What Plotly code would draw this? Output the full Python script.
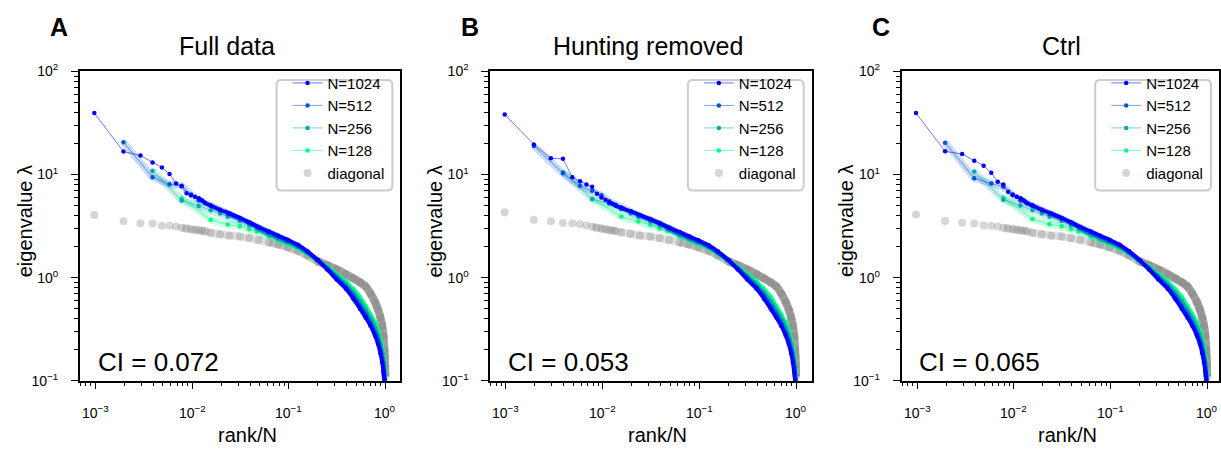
import math
import plotly.graph_objects as go

W, H = 1221, 455

# ---------------------------------------------------------------- data
# ranks at which each spectrum is sampled (x = rank / N)
RANK_1024 = [1, 2, 3, 4, 5, 6, 7, 8, 9, 10, 11, 12, 13, 14, 16, 20, 25, 32, 40, 50,
             64, 80, 100, 128, 160, 205, 256, 320, 400, 480, 560, 640, 720, 800, 860,
             910, 950, 980, 1000, 1010, 1018, 1024]
RANK_512 = [1, 2, 3, 4, 5, 6, 7, 8, 10, 12, 16, 20, 25, 32, 40, 50, 64, 80, 100, 128,
            160, 200, 240, 280, 320, 360, 400, 430, 455, 475, 490, 500, 506, 510, 512]
RANK_256 = [1, 2, 3, 4, 5, 6, 8, 10, 12, 16, 20, 25, 32, 40, 50, 64, 80, 100, 120, 140,
            160, 180, 200, 215, 228, 238, 245, 250, 253, 255, 256]
RANK_128 = [1, 2, 3, 4, 5, 6, 8, 10, 12, 16, 20, 25, 32, 40, 50, 60, 70, 80, 90, 100,
            108, 114, 119, 123, 126, 127, 128]

# Panel A: full data
LAM_A_1024 = [39.5, 16.7, 15.3, 13.1, 11.7, 10.1, 8.2, 7.7, 6.6, 6.3, 6.1, 5.9, 5.6, 5.3,
              5.0, 4.55, 4.2, 3.8, 3.44, 3.1, 2.8, 2.55, 2.33, 2.08, 1.8, 1.48, 1.2, 0.96,
              0.78, 0.62, 0.5, 0.41, 0.34, 0.275, 0.228, 0.185, 0.15, 0.122, 0.102, 0.09,
              0.075, 0.05]
LAM_A_512 = [20.6, 9.4, 8.05, 7.8, 6.4, 5.6, 5.3, 5.0, 4.5, 4.15, 3.75, 3.4, 3.05, 2.75,
             2.5, 2.27, 2.04, 1.77, 1.49, 1.22, 1.0, 0.81, 0.66, 0.53, 0.44, 0.36, 0.29,
             0.245, 0.2, 0.165, 0.135, 0.112, 0.097, 0.085, 0.06]
LAM_A_256 = [10.9, 5.6, 4.96, 4.5, 4.2, 3.9, 3.55, 3.25, 3.0, 2.62, 2.4, 2.2, 1.97, 1.73,
             1.48, 1.25, 1.04, 0.86, 0.71, 0.59, 0.48, 0.4, 0.33, 0.275, 0.225, 0.185,
             0.15, 0.125, 0.105, 0.09, 0.07]
LAM_A_128 = [5.9, 3.65, 3.27, 3.16, 2.95, 2.8, 2.5, 2.3, 2.15, 1.92, 1.7, 1.47, 1.28, 1.08,
             0.92, 0.77, 0.65, 0.53, 0.44, 0.37, 0.3, 0.25, 0.21, 0.17, 0.125, 0.1, 0.075]
LAM_A_DIAG = [4.06, 3.52, 3.37, 3.35, 3.18, 3.18, 3.14, 3.05, 3.0, 2.95, 2.91, 2.88, 2.85,
              2.82, 2.72, 2.64, 2.56, 2.5, 2.42, 2.32, 2.2, 2.1, 1.97, 1.82, 1.64, 1.44,
              1.32, 1.2, 1.08, 0.98, 0.9, 0.82, 0.7, 0.58, 0.49, 0.41, 0.34, 0.27, 0.2,
              0.17, 0.14, 0.11]

# Panel B: hunting removed
LAM_B_1024 = [38.3, 19.6, 14.4, 14.2, 9.4, 8.6, 8.0, 7.6, 6.5, 6.0, 5.7, 5.4, 5.2, 5.0,
              4.75, 4.4, 4.05, 3.7, 3.38, 3.06, 2.77, 2.52, 2.3, 2.06, 1.79, 1.48, 1.2,
              0.96, 0.78, 0.62, 0.5, 0.41, 0.34, 0.275, 0.228, 0.185, 0.15, 0.122, 0.102,
              0.09, 0.075, 0.05]
LAM_B_512 = [18.9, 10.3, 7.8, 6.95, 6.3, 5.5, 5.1, 4.8, 4.4, 4.05, 3.65, 3.33, 3.0, 2.72,
             2.47, 2.25, 2.02, 1.76, 1.49, 1.22, 1.0, 0.81, 0.66, 0.53, 0.44, 0.36, 0.29,
             0.245, 0.2, 0.165, 0.135, 0.112, 0.097, 0.085, 0.06]
LAM_B_256 = [10.5, 5.8, 5.2, 4.6, 4.2, 3.9, 3.5, 3.2, 2.97, 2.6, 2.39, 2.19, 1.96, 1.72,
             1.48, 1.25, 1.04, 0.86, 0.71, 0.59, 0.48, 0.4, 0.33, 0.275, 0.225, 0.185,
             0.15, 0.125, 0.105, 0.09, 0.07]
LAM_B_128 = [5.8, 3.92, 3.5, 3.25, 3.0, 2.83, 2.5, 2.3, 2.15, 1.92, 1.7, 1.47, 1.28, 1.08,
             0.92, 0.77, 0.65, 0.53, 0.44, 0.37, 0.3, 0.25, 0.21, 0.17, 0.125, 0.1, 0.075]
LAM_B_DIAG = [4.3, 3.65, 3.52, 3.39, 3.37, 3.3, 3.2, 3.12, 3.05, 2.99, 2.94, 2.9, 2.86,
              2.83, 2.75, 2.66, 2.57, 2.5, 2.42, 2.32, 2.2, 2.1, 1.97, 1.82, 1.64, 1.44,
              1.32, 1.2, 1.08, 0.98, 0.9, 0.82, 0.7, 0.58, 0.49, 0.41, 0.34, 0.27, 0.2,
              0.17, 0.14, 0.11]

# Panel C: control
LAM_C_1024 = [39.5, 16.8, 15.8, 13.6, 12.2, 10.4, 8.5, 8.0, 6.8, 6.4, 6.1, 5.9, 5.6, 5.3,
              5.0, 4.55, 4.2, 3.8, 3.44, 3.1, 2.8, 2.55, 2.33, 2.08, 1.8, 1.48, 1.2, 0.96,
              0.78, 0.62, 0.5, 0.41, 0.34, 0.275, 0.228, 0.185, 0.15, 0.122, 0.102, 0.09,
              0.075, 0.05]
LAM_C_512 = [20.4, 9.2, 8.2, 7.6, 6.3, 5.6, 5.3, 5.0, 4.5, 4.15, 3.75, 3.4, 3.05, 2.75,
             2.5, 2.27, 2.04, 1.77, 1.49, 1.22, 1.0, 0.81, 0.66, 0.53, 0.44, 0.36, 0.29,
             0.245, 0.2, 0.165, 0.135, 0.112, 0.097, 0.085, 0.06]
LAM_C_256 = [10.7, 5.7, 5.0, 4.5, 4.2, 3.9, 3.55, 3.25, 3.0, 2.62, 2.4, 2.2, 1.97, 1.73,
             1.48, 1.25, 1.04, 0.86, 0.71, 0.59, 0.48, 0.4, 0.33, 0.275, 0.225, 0.185,
             0.15, 0.125, 0.105, 0.09, 0.07]
LAM_C_128 = [6.0, 3.7, 3.3, 3.16, 2.95, 2.8, 2.5, 2.3, 2.15, 1.92, 1.7, 1.47, 1.28, 1.08,
             0.92, 0.77, 0.65, 0.53, 0.44, 0.37, 0.3, 0.25, 0.21, 0.17, 0.125, 0.1, 0.075]
LAM_C_DIAG = [4.1, 3.55, 3.4, 3.35, 3.2, 3.18, 3.14, 3.05, 3.0, 2.95, 2.91, 2.88, 2.85,
              2.82, 2.72, 2.64, 2.56, 2.5, 2.42, 2.32, 2.2, 2.1, 1.97, 1.82, 1.64, 1.44,
              1.32, 1.2, 1.08, 0.98, 0.9, 0.82, 0.7, 0.58, 0.49, 0.41, 0.34, 0.27, 0.2,
              0.17, 0.14, 0.11]

SIZES = [1024, 512, 256, 128]
RANKS = {1024: RANK_1024, 512: RANK_512, 256: RANK_256, 128: RANK_128}
PANEL_LETTERS = ["A", "B", "C"]
PANEL_TITLES = ["Full data", "Hunting removed", "Ctrl"]
CI_VALUES = ["0.072", "0.053", "0.065"]
SPECTRA = [
    {1024: LAM_A_1024, 512: LAM_A_512, 256: LAM_A_256, 128: LAM_A_128},
    {1024: LAM_B_1024, 512: LAM_B_512, 256: LAM_B_256, 128: LAM_B_128},
    {1024: LAM_C_1024, 512: LAM_C_512, 256: LAM_C_256, 128: LAM_C_128},
]
DIAGONALS = [LAM_A_DIAG, LAM_B_DIAG, LAM_C_DIAG]
X_TICKS = [1e-3, 1e-2, 1e-1, 1]
X_TICK_TEXT = ["10<sup>\u22123</sup>", "10<sup>\u22122</sup>", "10<sup>\u22121</sup>",
               "10<sup>0</sup>"]
Y_TICKS = [1e-1, 1, 10, 100]
Y_TICK_TEXT = ["10<sup>\u22121</sup>", "10<sup>0</sup>", "10<sup>1</sup>", "10<sup>2</sup>"]

# ---------------------------------------------------------------- style
FONT = "Liberation Sans, Arial, Helvetica, sans-serif"
RGB = {1024: (0, 0, 255), 512: (0, 85, 212), 256: (0, 170, 170), 128: (0, 255, 128)}
GRAY = (120, 120, 120)


def rgba(c, a):
    return f"rgba({c[0]},{c[1]},{c[2]},{a})"


def px(x):
    return x / W


def py(y):
    return 1 - y / H


# pixel geometry of the three axes boxes
BOX_LEFT = [80, 491, 903]
BOX_RIGHT = [401, 813, 1221]
BOX_TOP, BOX_BOTTOM = 64, 386
X_RANGE_RIGHT = [0.155, 0.161, 0.122]

MINOR_VALS = [m * 10.0 ** e for e in range(-4, 3) for m in range(2, 10)]

fig = go.Figure()
layout_axes = {}
annotations = []
shapes = []

for i in range(3):
    sfx = "" if i == 0 else str(i + 1)
    xa, ya = "x" + sfx, "y" + sfx
    leg = "legend" + sfx
    diag = DIAGONALS[i]
    xd = [r / 1024 for r in RANK_1024]

    # diagonal spectrum: translucent gray discs, darker where they pile up
    fig.add_trace(go.Scatter(
        x=xd, y=diag, mode="markers", xaxis=xa, yaxis=ya, legend=leg,
        name="diagonal", legendgroup=f"{i}diag", legendrank=5,
        marker=dict(size=8, color=rgba((128, 128, 128), 0.32), line=dict(width=0)),
        hoverinfo="skip"))
    for start, alpha in [(8, 0.22), (64, 0.3), (205, 0.45)]:
        k = RANK_1024.index(start)
        fig.add_trace(go.Scatter(
            x=xd[k:], y=diag[k:], mode="lines", xaxis=xa, yaxis=ya,
            line=dict(color=rgba(GRAY, alpha), width=8, shape="spline", smoothing=0.6),
            showlegend=False, hoverinfo="skip"))

    for n in [128, 256, 512, 1024]:
        ranks = RANKS[n]
        lam = SPECTRA[i][n]
        x = [r / n for r in ranks]
        c = RGB[n]
        if n != 1024:
            kb = sum(1 for v in x if v <= 0.1)
            fig.add_trace(go.Scatter(
                x=x[:kb], y=lam[:kb], mode="lines", xaxis=xa, yaxis=ya,
                line=dict(color=rgba(c, 0.22), width=7),
                showlegend=False, hoverinfo="skip"))
        fig.add_trace(go.Scatter(
            x=x, y=lam, mode="lines+markers", xaxis=xa, yaxis=ya, legend=leg,
            name=f"N={n}", legendgroup=f"{i}{n}", legendrank=SIZES.index(n) + 1,
            line=dict(color=rgba(c, 0.55), width=1),
            marker=dict(size=4.5, color=rgba(c, 1)),
            hoverinfo="skip"))
        kd = ranks.index(12)
        fig.add_trace(go.Scatter(
            x=x[kd:], y=lam[kd:], mode="lines", xaxis=xa, yaxis=ya,
            line=dict(color=rgba(c, 0.95), width=4, shape="spline", smoothing=0.5),
            showlegend=False, hoverinfo="skip"))

    left, right = BOX_LEFT[i], BOX_RIGHT[i]
    layout_axes["xaxis" + sfx] = dict(
        type="log", range=[-3.16, X_RANGE_RIGHT[i]], domain=[px(left), px(right)],
        anchor=ya, tickmode="array", tickvals=X_TICKS, showticklabels=False,
        ticks="outside", ticklen=7, tickwidth=1.2, tickcolor="black",
        minor=dict(tickmode="array", tickvals=MINOR_VALS, ticks="outside",
                   ticklen=4, tickwidth=1, tickcolor="black", showgrid=False),
        showline=True, linecolor="black", linewidth=1.5, mirror=True,
        showgrid=False, zeroline=False)
    layout_axes["yaxis" + sfx] = dict(
        type="log", range=[-1, 2], domain=[py(BOX_BOTTOM), py(BOX_TOP)],
        anchor=xa, tickmode="array", tickvals=Y_TICKS, ticktext=Y_TICK_TEXT,
        ticks="outside", ticklen=7, tickwidth=1.2, tickcolor="black",
        ticklabelstandoff=10,
        minor=dict(tickmode="array", tickvals=MINOR_VALS, ticks="outside",
                   ticklen=4, tickwidth=1, tickcolor="black", showgrid=False),
        showline=True, linecolor="black", linewidth=1.5, mirror=True,
        showgrid=False, zeroline=False,
        tickfont=dict(family=FONT, size=14, color="black"))

    # x tick labels, placed on the log axis below the frame
    for v, t in zip(X_TICKS, X_TICK_TEXT):
        annotations.append(dict(text=t, x=math.log10(v), xref=xa, y=py(419),
                                yref="paper", xanchor="center", yanchor="middle",
                                showarrow=False,
                                font=dict(family=FONT, size=14, color="black")))

    # rounded legend frame
    lx0, lx1 = right - 124, right - 8
    ly0, ly1 = 73, 188
    rx, ry = 5 / W, 5 / H
    X0, X1, Y0, Y1 = px(lx0), px(lx1), py(ly1), py(ly0)
    path = (f"M{X0 + rx},{Y0} L{X1 - rx},{Y0} Q{X1},{Y0} {X1},{Y0 + ry} "
            f"L{X1},{Y1 - ry} Q{X1},{Y1} {X1 - rx},{Y1} L{X0 + rx},{Y1} "
            f"Q{X0},{Y1} {X0},{Y1 - ry} L{X0},{Y0 + ry} Q{X0},{Y0} {X0 + rx},{Y0} Z")
    shapes.append(dict(type="path", path=path, xref="paper", yref="paper",
                       line=dict(color="#cccccc", width=2), fillcolor="white",
                       layer="above"))
    layout_axes[leg] = dict(
        x=px(lx0 + 11), y=py(ly0 - 14), xanchor="left", yanchor="top",
        bgcolor="rgba(0,0,0,0)", borderwidth=0, itemwidth=30,
        tracegroupgap=0, font=dict(family=FONT, size=15, color="black"))

    cx = (left + right) / 2
    annotations += [
        dict(text=f"<b>{PANEL_LETTERS[i]}</b>", x=px([59.5, 471, 882][i]), y=py(18),
             font=dict(family=FONT, size=25, color="black")),
        dict(text=PANEL_TITLES[i], x=px([227.5, 648.7, 1063.7][i]), y=py(37),
             font=dict(family=FONT, size=25, color="black")),
        dict(text=f"CI = {CI_VALUES[i]}", x=px(left + 16), y=py(367), xanchor="left",
             font=dict(family=FONT, size=26, color="black")),
        dict(text="rank/N", x=px(cx + 7), y=py(442),
             font=dict(family=FONT, size=20, color="black")),
        dict(text="eigenvalue \u03bb", x=px(left - 55), y=py(220), textangle=-90,
             font=dict(family=FONT, size=20, color="black")),
    ]

for a in annotations:
    a.setdefault("xref", "paper")
    a.update(yref="paper", showarrow=False,
             xanchor=a.get("xanchor", "center"), yanchor="middle")

fig.update_layout(
    width=W, height=H, margin=dict(l=0, r=0, t=0, b=0),
    paper_bgcolor="white", plot_bgcolor="white",
    annotations=annotations, shapes=shapes, **layout_axes)

fig.write_html("out.html")
